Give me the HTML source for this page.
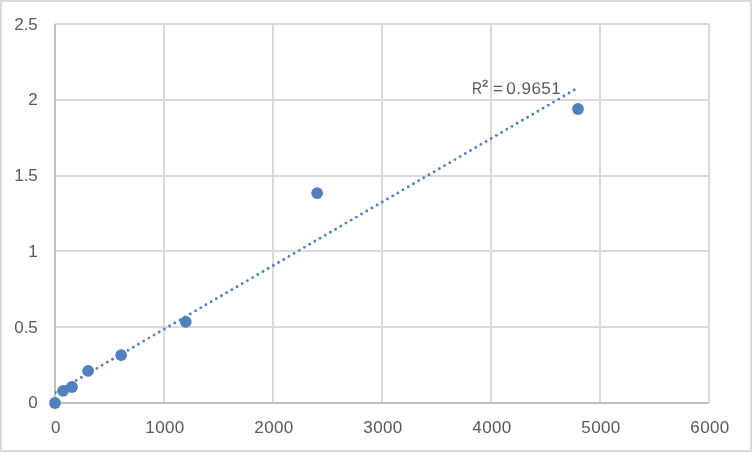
<!DOCTYPE html>
<html><head><meta charset="utf-8"><title>Chart</title>
<style>
html,body{margin:0;padding:0;background:#fff;}
body{width:752px;height:452px;overflow:hidden;}
svg{display:block;}
text{font-family:"Liberation Sans",sans-serif;font-size:17px;fill:#595959;}
</style></head><body>
<svg width="752" height="452" viewBox="0 0 752 452">
<rect x="0" y="0" width="752" height="452" fill="#fff"/>
<rect x="1" y="1" width="750" height="450" fill="none" stroke="#D9D9D9" stroke-width="2"/>

<g stroke="#D9D9D9" stroke-width="2" fill="none">
<line x1="55" y1="24" x2="709" y2="24"/>
<line x1="55" y1="100" x2="709" y2="100"/>
<line x1="55" y1="176" x2="709" y2="176"/>
<line x1="55" y1="251" x2="709" y2="251"/>
<line x1="55" y1="327" x2="709" y2="327"/>
<line x1="164" y1="24" x2="164" y2="403"/>
<line x1="273" y1="24" x2="273" y2="403"/>
<line x1="382" y1="24" x2="382" y2="403"/>
<line x1="491" y1="24" x2="491" y2="403"/>
<line x1="600" y1="24" x2="600" y2="403"/>
<line x1="709" y1="24" x2="709" y2="403"/>
</g>
<g stroke="#BFBFBF" stroke-width="2" fill="none">
<line x1="55" y1="24" x2="55" y2="403"/>
<line x1="55" y1="403" x2="709" y2="403"/>
</g>
<clipPath id="pc"><rect x="55" y="20" width="660" height="390"/></clipPath>
<line clip-path="url(#pc)" x1="55.45" y1="392.55" x2="575.81" y2="89.11" stroke="#4F81BD" stroke-width="2.9" stroke-linecap="round" stroke-dasharray="0 6.0056"/>
<g fill="#4F81BD">
<circle cx="55" cy="403" r="5.9"/>
<circle cx="63.1" cy="390.9" r="5.9"/>
<circle cx="71.9" cy="387.0" r="5.9"/>
<circle cx="88.1" cy="370.9" r="5.9"/>
<circle cx="121.1" cy="355.1" r="5.9"/>
<circle cx="185.75" cy="321.9" r="5.9"/>
<circle cx="317.1" cy="193.05" r="5.9"/>
<circle cx="578.0" cy="109.0" r="5.9"/>
</g>
<g text-anchor="end">
<text x="37.8" y="29.8">2.5</text>
<text x="37.8" y="104.8">2</text>
<text x="37.8" y="180.8">1.5</text>
<text x="37.8" y="256.8">1</text>
<text x="37.8" y="332.9">0.5</text>
<text x="37.8" y="408.3">0</text>
</g>
<g text-anchor="middle" letter-spacing="0.4">
<text x="56.0" y="433">0</text>
<text x="165.0" y="433">1000</text>
<text x="274.0" y="433">2000</text>
<text x="383.0" y="433">3000</text>
<text x="492.0" y="433">4000</text>
<text x="601.0" y="433">5000</text>
<text x="710.0" y="433">6000</text>
</g>
<text transform="rotate(0.03 473 94)" x="472.1" y="93.9"><tspan textLength="10" lengthAdjust="spacingAndGlyphs">R</tspan><tspan x="482.0" y="86.6" style="font-size:9.64px" stroke="#595959" stroke-width="0.3" textLength="6.2" lengthAdjust="spacingAndGlyphs">2</tspan><tspan x="488.27" y="93.9"> =</tspan><tspan x="501.07" y="93.9" letter-spacing="0.5"> 0.9651</tspan></text>
</svg></body></html>
